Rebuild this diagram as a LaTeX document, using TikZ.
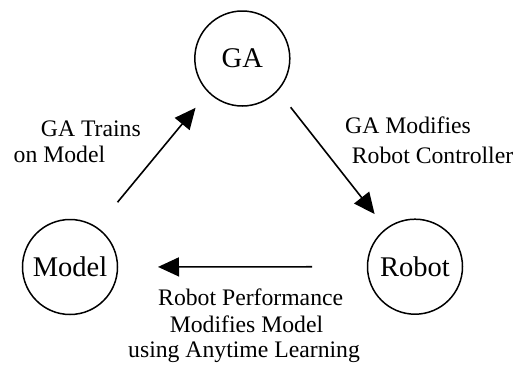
\documentclass[tikz,border=0pt]{standalone}
\usepackage{fontspec}
\setmainfont{Liberation Serif}
\usetikzlibrary{arrows.meta}
\begin{document}
\begin{tikzpicture}[x=1pt,y=-1pt,
  state/.style={circle,draw,line width=1.5pt,minimum size=95pt,inner sep=0pt,font=\fontsize{28.5}{34}\selectfont},
  flow/.style={line width=1.6pt,-{Triangle[length=21pt,width=19pt]}},
  lbl/.style={anchor=base west,inner sep=0pt,font=\fontsize{23.7}{28}\selectfont}]
\useasboundingbox (0,0) rectangle (525,367);
\node[state] (ga) at (242.3,58.5) {GA};
\node[state] (model) at (70,267) {Model};
\node[state] (robot) at (415,266.7) {Robot};
\draw[flow, shorten <=84pt, shorten >=64pt] ([xshift=-6pt]model.center) -- ([xshift=-6pt]ga.center);
\draw[flow, shorten <=62pt, shorten >=67pt] ([xshift=10pt]ga.center) -- ([xshift=1pt]robot.center);
\draw[flow, shorten <=103pt, shorten >=88pt] (robot.center) -- (model.center);
\node[lbl] (l1a) at (40.7,136) {GA Trains};
\node[lbl] (l1b) at (13.5,162) {on Model};
\node[lbl] (l2a) at (345,133.3) {GA Modifies};
\node[lbl] (l2b) at (351.7,163.3) {Robot Controller};
\node[lbl] (l3a) at (158,305.5) {Robot Performance};
\node[lbl] (l3b) at (169.6,332.5) {Modifies Model};
\node[lbl] (l3c) at (128,357) {using Anytime Learning};
\end{tikzpicture}
\end{document}
